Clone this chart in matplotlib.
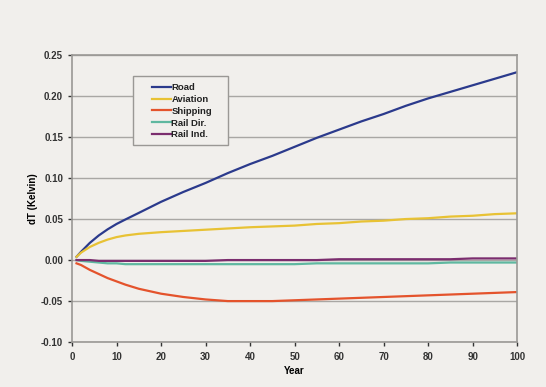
import numpy as np
import matplotlib.pyplot as plt
from matplotlib.patches import Rectangle

plt.rcParams['font.family'] = ['Liberation Sans', 'DejaVu Sans']
plt.rcParams['font.weight'] = 'bold'

# valores
years = [1, 2, 4, 6, 8, 10, 12, 15, 20, 25, 30, 35, 40, 45, 50, 55, 60, 65, 70, 75, 80, 85, 90, 95, 100]
road = [0.004, 0.010, 0.021, 0.030, 0.0375, 0.044, 0.0495, 0.0575, 0.071, 0.083, 0.094, 0.106, 0.117,
        0.127, 0.138, 0.149, 0.159, 0.169, 0.178, 0.188, 0.197, 0.205, 0.213, 0.221, 0.229]
aviation = [0.004, 0.009, 0.016, 0.021, 0.025, 0.028, 0.030, 0.032, 0.034, 0.0355, 0.037, 0.0385,
            0.040, 0.041, 0.042, 0.044, 0.045, 0.047, 0.048, 0.050, 0.051, 0.053, 0.054, 0.056, 0.057]
shipping = [-0.004, -0.006, -0.012, -0.017, -0.022, -0.026, -0.030, -0.035, -0.041, -0.045, -0.048,
            -0.050, -0.050, -0.050, -0.049, -0.048, -0.047, -0.046, -0.045, -0.044, -0.043, -0.042,
            -0.041, -0.040, -0.039]
rail_dir = [0.000, -0.001, -0.002, -0.003, -0.004, -0.004, -0.005, -0.005, -0.005, -0.005, -0.005,
            -0.005, -0.005, -0.005, -0.005, -0.004, -0.004, -0.004, -0.004, -0.004, -0.004, -0.003,
            -0.003, -0.003, -0.003]
rail_ind = [0.000, 0.000, 0.000, -0.001, -0.001, -0.001, -0.001, -0.001, -0.001, -0.001, -0.001,
            0.000, 0.000, 0.000, 0.000, 0.000, 0.001, 0.001, 0.001, 0.001, 0.001, 0.001, 0.002,
            0.002, 0.002]

series = [("Road", road, "#2b3a8c"),
          ("Aviation", aviation, "#e8c234"),
          ("Shipping", shipping, "#e4532c"),
          ("Rail Dir.", rail_dir, "#5fb8a0"),
          ("Rail Ind.", rail_ind, "#7b2d6e")]

bg = "#f1efec"
fig = plt.figure(figsize=(5.46, 3.87), dpi=100, facecolor=bg)
ax = fig.add_axes([0.132, 0.116, 0.815, 0.742], facecolor=bg)

for name, vals, col in series:
    ax.plot(years, vals, color=col, lw=1.6, label=name)

ax.set_xlim(0, 100)
ax.set_ylim(-0.10, 0.25)
ax.set_xticks(np.arange(0, 101, 10))
ax.set_yticks(np.arange(-0.10, 0.251, 0.05))
ax.yaxis.set_major_formatter(plt.FormatStrFormatter('%.2f'))
ax.grid(axis='y', color='#a9a7a4', lw=1)
ax.set_axisbelow(True)
for s in ax.spines.values():
    s.set_color('#9a9895')
    s.set_linewidth(1.2)
ax.tick_params(labelsize=7, colors='#333333', length=3, width=1, direction='out')
ax.tick_params(axis='x', pad=4)
ax.set_xlabel("Year", fontsize=7, fontweight='bold', labelpad=3)
ax.set_ylabel("dT (Kelvin)", fontsize=7, fontweight='bold', labelpad=2)

# caja de la leyenda (mas ancha que la de matplotlib)
ax.add_patch(Rectangle((0.137, 0.686), 0.214, 0.242, transform=ax.transAxes,
                       facecolor=bg, edgecolor='#9a9895', lw=1, zorder=3))
leg = ax.legend(loc='upper left', bbox_to_anchor=(0.165, 0.925), fontsize=6.8,
                handlelength=2.0, handletextpad=0.05, labelspacing=0.3,
                borderpad=0.2, frameon=False)
leg.set_zorder(4)
for t in leg.get_texts():
    t.set_color('#222222')

plt.savefig("out.png", dpi=100, facecolor=bg)
